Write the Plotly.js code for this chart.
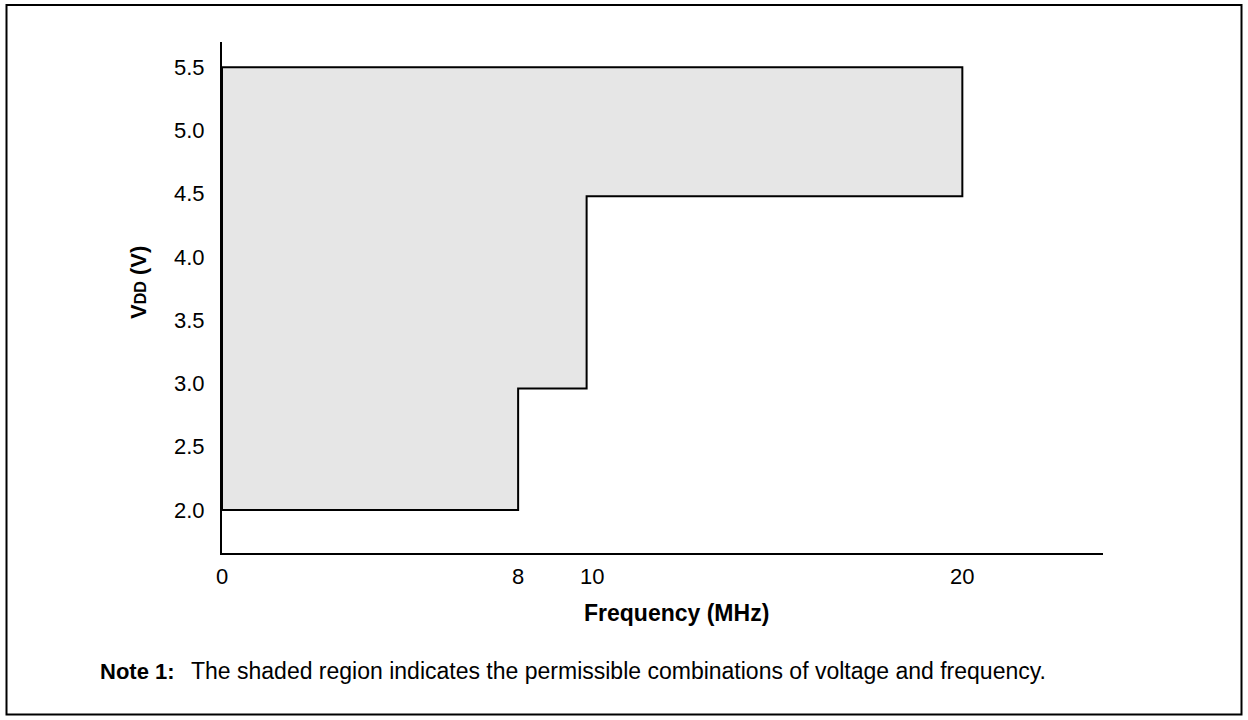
<!DOCTYPE html>
<html>
<head>
<meta charset="utf-8">
<script src="https://cdn.plot.ly/plotly-3.0.1.min.js"></script>
<style>
html,body{margin:0;padding:0;background:#fff;}
#chart{width:1248px;height:720px;}
</style>
</head>
<body>
<div id="chart"></div>
<script>
// Boundary of the permissible operating region
const freqMHz = [0, 8, 8, 9.85, 9.85, 20, 20, 0, 0];
const vddVolts = [2.0, 2.0, 2.96, 2.96, 4.48, 4.48, 5.5, 5.5, 2.0];

const xTickVals = [0, 8, 10, 20];
const xTickText = ['0', '8', '10', '20'];
const yTickVals = [2.0, 2.5, 3.0, 3.5, 4.0, 4.5, 5.0, 5.5];
const yTickText = ['2.0', '2.5', '3.0', '3.5', '4.0', '4.5', '5.0', '5.5'];

const FONT = 'Liberation Sans, Arial, Helvetica, sans-serif';

const L = 222, R = 1103, T = 42, B = 553;
const W = 1248, H = 720;
const pw = R - L, ph = B - T;
const px = v => (v - L) / pw;
const py = v => (B - v) / ph;

const trace = {
  x: freqMHz,
  y: vddVolts,
  type: 'scatter',
  mode: 'lines',
  fill: 'toself',
  fillcolor: '#e6e6e6',
  line: {color: '#000', width: 2},
  hoverinfo: 'skip',
  showlegend: false
};

const layout = {
  width: W,
  height: H,
  margin: {l: L, r: W - R, t: T, b: H - B, pad: 0},
  paper_bgcolor: '#fff',
  plot_bgcolor: 'rgba(0,0,0,0)',
  font: {family: FONT, color: '#000', size: 22},
  showlegend: false,
  xaxis: {
    range: [0, 23.8],
    showgrid: false,
    zeroline: false,
    showline: true,
    linecolor: '#000',
    linewidth: 2,
    ticks: '',
    tickvals: xTickVals,
    ticktext: xTickText,
    tickfont: {family: FONT, size: 22, color: '#000'},
    ticklabelstandoff: 3,
    fixedrange: true
  },
  yaxis: {
    range: [1.66, 5.7],
    showgrid: false,
    zeroline: false,
    showline: true,
    linecolor: '#000',
    linewidth: 2,
    ticks: '',
    tickvals: yTickVals,
    ticktext: yTickText,
    tickfont: {family: FONT, size: 22, color: '#000'},
    ticklabelstandoff: 11,
    fixedrange: true
  },
  annotations: [
    {
      text: '<b>Frequency (MHz)</b>',
      xref: 'paper', yref: 'paper',
      x: px(676), y: py(613),
      xanchor: 'center', yanchor: 'middle',
      showarrow: false,
      font: {family: FONT, size: 23, color: '#000'}
    },
    {
      text: '<b>V<span style="font-size:16px">DD</span> (V)</b>',
      xref: 'paper', yref: 'paper',
      x: px(138), y: py(283),
      xanchor: 'center', yanchor: 'middle',
      textangle: -90,
      showarrow: false,
      font: {family: FONT, size: 22, color: '#000'}
    },
    {
      text: '<b>Note 1:</b>',
      xref: 'paper', yref: 'paper',
      x: px(98), y: py(671),
      xanchor: 'left', yanchor: 'middle',
      showarrow: false,
      font: {family: FONT, size: 22, color: '#000'}
    },
    {
      text: 'The shaded region indicates the permissible combinations of voltage and frequency.',
      xref: 'paper', yref: 'paper',
      x: px(189), y: py(671),
      xanchor: 'left', yanchor: 'middle',
      showarrow: false,
      font: {family: FONT, size: 23, color: '#000'}
    }
  ],
  shapes: [
    {
      type: 'rect',
      xref: 'paper', yref: 'paper',
      x0: px(6.5), x1: px(1241.5),
      y0: py(5), y1: py(714.5),
      line: {color: '#000', width: 2},
      fillcolor: 'rgba(0,0,0,0)',
      layer: 'below'
    }
  ]
};

Plotly.newPlot('chart', [trace], layout, {displayModeBar: false, staticPlot: true});
</script>
</body>
</html>
